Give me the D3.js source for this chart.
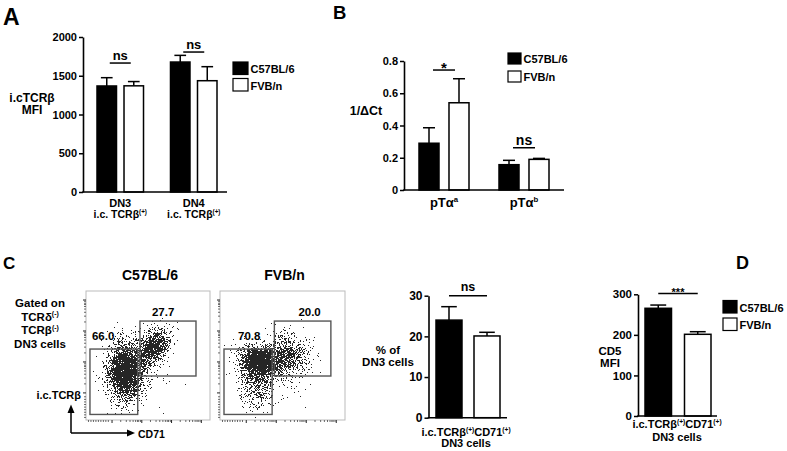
<!DOCTYPE html>
<html><head><meta charset="utf-8">
<script src="https://cdn.jsdelivr.net/npm/d3@7"></script>
<style>
html,body{margin:0;padding:0;background:#fff;}
svg text{font-family:"Liberation Sans",Arial,sans-serif;font-weight:bold;fill:#000;}
</style></head>
<body>
<svg id="chart" width="787" height="451"></svg>
<script>
// ---------------- DATA ----------------
const series = ["C57BL/6", "FVB/n"];

// Panel A: i.cTCRβ MFI
const catsA = ["DN3", "DN4"];
const c57A = [1368, 1677];
const c57ErrA = [107, 86];
const fvbA = [1370, 1436];
const fvbErrA = [55, 181];
const ticksA = [0, 500, 1000, 1500, 2000];
const sigA = [{cat: "DN3", label: "ns", y: 1664}, {cat: "DN4", label: "ns", y: 1806}];

// Panel B: 1/ΔCt
const catsB = ["pTαa", "pTαb"];
const supB = ["a", "b"];
const c57B = [0.29, 0.157];
const c57ErrB = [0.096, 0.027];
const fvbB = [0.541, 0.19];
const fvbErrB = [0.149, 0.006];
const ticksB = [0, 0.2, 0.4, 0.6, 0.8];
const sigB = [{cat: "pTαa", label: "*", y: 0.744}, {cat: "pTαb", label: "ns", y: 0.262}];

// Panel C (bar): % of DN3 cells
const catsC = ["icTCRb+CD71+"];
const c57C = [24.0];
const c57ErrC = [3.3];
const fvbC = [20.1];
const fvbErrC = [0.9];
const ticksC = [0, 10, 20, 30];
const sigC = [{cat: "icTCRb+CD71+", label: "ns", y: 30.0}];

// Panel D: CD5 MFI
const catsD = ["icTCRb+CD71+"];
const c57D = [265.5];
const c57ErrD = [8];
const fvbD = [201.4];
const fvbErrD = [6.4];
const ticksD = [0, 100, 200, 300];
const sigD = [{cat: "icTCRb+CD71+", label: "***", y: 302}];

// Panel C flow plots (data units 0-100 on both axes)
const flowTitles = ["C57BL/6", "FVB/n"];
const gateLow = [3.2, 41.7, 4.3, 55];     // x0, x1, y0, y1
const gateHigh = [43.5, 88.7, 34.1, 76.7];
const gateLowPct = ["66.0", "70.8"];
const gateHighPct = ["27.7", "20.0"];
// populations: plot index, centre x/y, spreads, rotation (deg), event count
const flowPops = [
  {plot: 0, cx: 31.5, cy: 38, sx: 6.8, sy: 10.5, rot: 0, n: 3000},
  {plot: 0, cx: 53.5, cy: 56, sx: 8.5, sy: 5, rot: 50, n: 1100},
  {plot: 0, cx: 38, cy: 42, sx: 13, sy: 14, rot: 0, n: 220},
  {plot: 1, cx: 32, cy: 46, sx: 7.5, sy: 5.8, rot: 0, n: 2000},
  {plot: 1, cx: 30, cy: 30, sx: 6.5, sy: 10, rot: 0, n: 550},
  {plot: 1, cx: 54, cy: 50, sx: 8, sy: 8.5, rot: 0, n: 800},
  {plot: 1, cx: 38, cy: 40, sx: 14, sy: 14, rot: 0, n: 220}
];
const flowMajorTicks = [21, 45, 69, 93];
const flowMinorTicks = [2, 4, 6, 8, 10, 12, 14, 16, 18,
  28, 32.5, 35.5, 38, 40, 41.5, 42.5, 44,
  52, 56.5, 59.5, 62, 64, 65.5, 66.5, 68,
  76, 80.5, 83.5, 86, 88, 89.5, 90.5, 92];

// ---------------- DRAW ----------------
const svg = d3.select("#chart");
svg.append("rect").attr("width", 787).attr("height", 451).attr("fill", "#fff");

function txt(g, x, y, s, size, anchor) {
  return g.append("text").attr("x", x).attr("y", y).attr("font-size", size)
    .attr("text-anchor", anchor || "start").text(s);
}
// text with superscript parts: parts = [[str, isSup], ...]
function richText(g, x, y, parts, size, anchor) {
  const t = g.append("text").attr("x", x).attr("y", y).attr("font-size", size)
    .attr("text-anchor", anchor || "middle");
  let shifted = false;
  parts.forEach(([s, sup]) => {
    const sp = t.append("tspan").text(s);
    if (sup && !shifted) { sp.attr("dy", -size * 0.36).attr("font-size", size * 0.6); shifted = true; }
    else if (sup) { sp.attr("font-size", size * 0.6); }
    else if (!sup && shifted) { sp.attr("dy", size * 0.36); shifted = false; }
  });
  return t;
}

function barPanel(cfg) {
  const g = svg.append("g");
  const y = d3.scaleLinear().domain([0, cfg.ticks[cfg.ticks.length - 1]]).range(cfg.yRange);
  const x0 = d3.scaleBand().domain(cfg.cats).range(cfg.bandRange).paddingInner(cfg.pi).paddingOuter(0);
  const x1 = d3.scaleBand().domain(series).range([0, x0.bandwidth()]).paddingInner(cfg.pj);
  const rows = [];
  cfg.cats.forEach((c, i) => {
    rows.push({cat: c, s: series[0], v: cfg.vals[0][i], e: cfg.errs[0][i]});
    rows.push({cat: c, s: series[1], v: cfg.vals[1][i], e: cfg.errs[1][i]});
  });
  const bx = d => x0(d.cat) + x1(d.s);
  const cap = x1.bandwidth() * 0.6;
  rows.forEach(d => {
    const cx = bx(d) + x1.bandwidth() / 2;
    g.append("line").attr("x1", cx).attr("x2", cx).attr("y1", y(d.v)).attr("y2", y(d.v + d.e))
      .attr("stroke", "#000").attr("stroke-width", 1.5);
    g.append("line").attr("x1", cx - cap / 2).attr("x2", cx + cap / 2).attr("y1", y(d.v + d.e)).attr("y2", y(d.v + d.e))
      .attr("stroke", "#000").attr("stroke-width", 1.5);
  });
  g.selectAll("rect.bar").data(rows).enter().append("rect").attr("class", "bar")
    .attr("x", d => bx(d)).attr("width", x1.bandwidth())
    .attr("y", d => y(d.v)).attr("height", d => y(0) - y(d.v))
    .attr("fill", d => d.s === series[0] ? "#000" : "#fff")
    .attr("stroke", "#000").attr("stroke-width", 1.5);
  const ax = g.append("g").attr("transform", `translate(${cfg.axisX},0)`)
    .call(d3.axisLeft(y).tickValues(cfg.ticks).tickSize(4).tickSizeOuter(0).tickPadding(2)
      .tickFormat(cfg.fmt || (d => d)));
  ax.select(".domain").attr("stroke", "#000").attr("stroke-width", 1.6);
  ax.selectAll(".tick line").attr("stroke", "#000").attr("stroke-width", 1.5);
  ax.selectAll(".tick text").attr("font-size", cfg.tickSize).attr("font-family", "Liberation Sans, Arial, sans-serif")
    .attr("font-weight", "bold").attr("fill", "#000");
  g.append("line").attr("x1", cfg.axisX - 0.8).attr("x2", cfg.axisEnd).attr("y1", y(0)).attr("y2", y(0))
    .attr("stroke", "#000").attr("stroke-width", 1.6);
  cfg.sig.forEach(s => {
    const xa = x0(s.cat) + x1(series[0]) + x1.bandwidth() / 2 + cfg.sigInset;
    const xb = x0(s.cat) + x1(series[1]) + x1.bandwidth() / 2 - cfg.sigInset;
    g.append("line").attr("x1", xa).attr("x2", xb).attr("y1", y(s.y)).attr("y2", y(s.y))
      .attr("stroke", "#000").attr("stroke-width", 1.5);
    const star = s.label.indexOf("*") >= 0;
    txt(g, (xa + xb) / 2, y(s.y) + (star ? cfg.starDy : -cfg.nsGap), s.label, star ? cfg.starSize : cfg.nsSize, "middle");
  });
  return {g, x0, x1, y};
}

function legend(x, y0, w, h, gap, size) {
  const g = svg.append("g");
  series.forEach((s, i) => {
    const yy = y0 + i * gap;
    g.append("rect").attr("x", x).attr("y", yy).attr("width", w).attr("height", h)
      .attr("fill", i === 0 ? "#000" : "#fff").attr("stroke", "#000").attr("stroke-width", 1.2);
    txt(g, x + w + 2.5, yy + h - 1.3, s, size);
  });
}

// ---- Panel A ----
txt(svg, 3, 25, "A", 23);
const pA = barPanel({cats: catsA, vals: [c57A, fvbA], errs: [c57ErrA, fvbErrA], ticks: ticksA,
  yRange: [192, 37], bandRange: [97, 217], pi: 0.367, pj: 0.278, axisX: 83, axisEnd: 227,
  tickSize: 11, sig: sigA, sigInset: 3, nsGap: 3.5, nsSize: 13, starDy: 3, starSize: 13});
txt(svg, 32, 101.5, "i.cTCRβ", 12, "middle");
txt(svg, 32, 114, "MFI", 12, "middle");
catsA.forEach(c => {
  const cx = pA.x0(c) + pA.x0.bandwidth() / 2;
  txt(svg, cx, 206.5, c, 11, "middle");
  richText(svg, cx, 217.5, [["i.c. TCRβ", false], ["(+)", true]], 10.5, "middle");
});
legend(233, 62, 15, 12.5, 16.5, 11);

// ---- Panel B ----
txt(svg, 333, 18.5, "B", 18.5);
const pB = barPanel({cats: catsB, vals: [c57B, fvbB], errs: [c57ErrB, fvbErrB], ticks: ticksB,
  yRange: [190, 61], bandRange: [419, 549], pi: 0.375, pj: 0.333, axisX: 404, axisEnd: 564,
  tickSize: 11, fmt: d => d === 0 ? "0" : d3.format(".1f")(d),
  sig: sigB, sigInset: 4, nsGap: 2.7, nsSize: 14, starDy: 2.5, starSize: 15});
txt(svg, 366, 115, "1/ΔCt", 12.5, "middle");
catsB.forEach((c, i) => {
  const cx = pB.x0(c) + pB.x0.bandwidth() / 2;
  richText(svg, cx, 206.5, [["pTα", false], [supB[i], true]], 13, "middle");
});
legend(508, 53, 13, 11, 18, 11);

// ---- Panel C: flow plots ----
txt(svg, 3, 268.5, "C", 17);
const flowFrames = [[86, 210], [220, 345]];
const fTop = 291, fBot = 420;
flowFrames.forEach((fr, p) => {
  const g = svg.append("g");
  const fx = d3.scaleLinear().domain([0, 100]).range(fr);
  const fy = d3.scaleLinear().domain([0, 100]).range([fBot, fTop]);
  txt(g, (fr[0] + fr[1]) / 2 + 2, 280, flowTitles[p], 14, "middle");
  g.append("rect").attr("x", fr[0]).attr("y", fTop).attr("width", fr[1] - fr[0]).attr("height", fBot - fTop)
    .attr("fill", "#fff").attr("stroke", "#bbb").attr("stroke-width", 1);
  const rng = d3.randomLcg(0.137 + p * 0.41);
  const norm = d3.randomNormal.source(rng)(0, 1);
  let path = "";
  flowPops.filter(d => d.plot === p).forEach(pop => {
    const a = pop.rot * Math.PI / 180;
    for (let i = 0; i < pop.n; i++) {
      const u = norm() * pop.sx, v = norm() * pop.sy;
      const dx = pop.cx + u * Math.cos(a) - v * Math.sin(a);
      const dy = pop.cy + u * Math.sin(a) + v * Math.cos(a);
      if (dx < 1.5 || dx > 98.5 || dy < 1.5 || dy > 98.5) continue;
      const px = Math.round(fx(dx)), py = Math.round(fy(dy));
      path += `M${px},${py}h1v1h-1z`;
    }
  });
  g.append("path").attr("d", path).attr("fill", "#000").attr("fill-opacity", 0.85);
  [gateLow, gateHigh].forEach(gt => {
    g.append("rect").attr("x", fx(gt[0])).attr("y", fy(gt[3])).attr("width", fx(gt[1]) - fx(gt[0]))
      .attr("height", fy(gt[2]) - fy(gt[3])).attr("fill", "none").attr("stroke", "#555").attr("stroke-width", 1.4);
  });
  txt(g, fx(gateLow[0]) + (p === 0 ? 2 : 14), 340, gateLowPct[p], 11.5);
  txt(g, fx(gateHigh[0]) + (p === 0 ? 12 : 24), 316, gateHighPct[p], 11.5);
  flowMajorTicks.forEach(t => {
    g.append("line").attr("x1", fr[0] - 3).attr("x2", fr[0]).attr("y1", fy(t)).attr("y2", fy(t)).attr("stroke", "#222").attr("stroke-width", 1);
    g.append("line").attr("x1", fx(t)).attr("x2", fx(t)).attr("y1", fBot).attr("y2", fBot + 3).attr("stroke", "#222").attr("stroke-width", 1);
  });
  flowMinorTicks.forEach(t => {
    g.append("line").attr("x1", fr[0] - 2).attr("x2", fr[0]).attr("y1", fy(t)).attr("y2", fy(t)).attr("stroke", "#444").attr("stroke-width", 0.8);
    g.append("line").attr("x1", fx(t)).attr("x2", fx(t)).attr("y1", fBot).attr("y2", fBot + 2).attr("stroke", "#444").attr("stroke-width", 0.8);
  });
});
// gating text
txt(svg, 40, 307, "Gated on", 11.5, "middle");
richText(svg, 40, 320.5, [["TCRδ", false], ["(-)", true]], 11.5, "middle");
richText(svg, 40, 334, [["TCRβ", false], ["(-)", true]], 11.5, "middle");
txt(svg, 40, 348, "DN3 cells", 11.5, "middle");
txt(svg, 81, 399, "i.c.TCRβ", 11, "end");
// axis arrows
svg.append("path").attr("d", "M71,433V412M71,433H128").attr("stroke", "#000").attr("stroke-width", 1.5).attr("fill", "none");
svg.append("path").attr("d", "M67.5,413L71,404.5L74.5,413Z").attr("fill", "#000");
svg.append("path").attr("d", "M127,429.5L135,433L127,436.5Z").attr("fill", "#000");
txt(svg, 138, 437.5, "CD71", 10.5);

// ---- Panel C bar ----
const pC = barPanel({cats: catsC, vals: [c57C, fvbC], errs: [c57ErrC, fvbErrC], ticks: ticksC,
  yRange: [417.7, 295.7], bandRange: [436, 500], pi: 0, pj: 0.316, axisX: 428.5, axisEnd: 507,
  tickSize: 12, sig: sigC, sigInset: 0, nsGap: 4.5, nsSize: 12.5, starDy: 2, starSize: 12});
txt(svg, 388, 353.5, "% of", 11.5, "middle");
txt(svg, 388, 365.5, "DN3 cells", 11.5, "middle");
richText(svg, 466, 435.5, [["i.c.TCRβ", false], ["(+)", true], ["CD71", false], ["(+)", true]], 11, "middle");
txt(svg, 466, 447, "DN3 cells", 11, "middle");

// ---- Panel D ----
txt(svg, 736, 268.5, "D", 18);
const pD = barPanel({cats: catsD, vals: [c57D, fvbD], errs: [c57ErrD, fvbErrD], ticks: ticksD,
  yRange: [416, 294.3], bandRange: [645, 711], pi: 0, pj: 0.329, axisX: 638, axisEnd: 717,
  tickSize: 11.5, sig: sigD, sigInset: 0, nsGap: 4, nsSize: 12, starDy: 2.5, starSize: 11});
txt(svg, 610, 355, "CD5", 11.5, "middle");
txt(svg, 610, 367, "MFI", 11.5, "middle");
richText(svg, 677, 428, [["i.c.TCRβ", false], ["(+)", true], ["CD71", false], ["(+)", true]], 11, "middle");
txt(svg, 677, 441, "DN3 cells", 11, "middle");
legend(723, 300.5, 14, 12.5, 17.5, 11);
</script>
</body></html>
